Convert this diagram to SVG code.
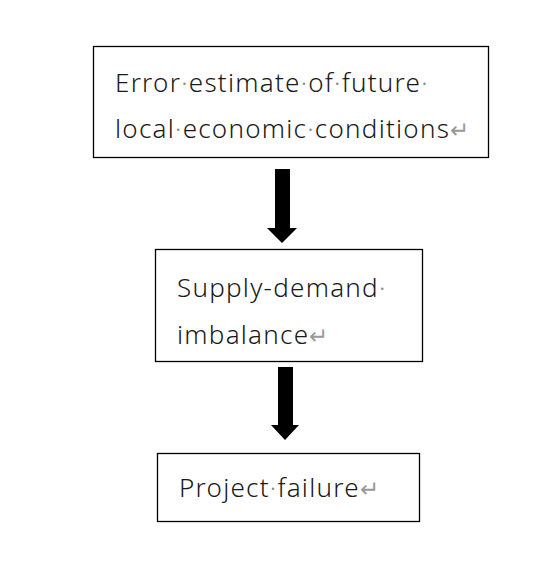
<svg xmlns="http://www.w3.org/2000/svg" width="546" height="581" viewBox="0 0 546 581">
<style>
.box{fill:#fff;stroke:#000;stroke-width:1.3}
.t{font-family:"Noto Sans","Noto Sans CJK SC",sans-serif;font-size:26px;font-weight:300;letter-spacing:1.25px;fill:#1a1a1a}
.m{fill:#8a8a8a}
.r{fill:#9a9a9a;font-size:23px;letter-spacing:0}
.arr{fill:#000}
</style>
<rect width="546" height="581" fill="#fff"/>
<g id="connectors">
<path class="arr" d="M275,169 H290 V228 H297 L282,243 L267,228 H275 Z"/>
<path class="arr" d="M278,367 H293 V425 H299 L285,440 L271,425 H278 Z"/>
</g>
<g id="node1">
<rect class="box" x="93.5" y="46.5" width="395" height="111"/>
<text class="t" x="115" y="92">Error<tspan class="m">·</tspan>estimate<tspan class="m">·</tspan>of<tspan class="m">·</tspan>future<tspan class="m">·</tspan></text>
<text class="t" x="115" y="138">local<tspan class="m">·</tspan>economic<tspan class="m">·</tspan>conditions<tspan class="r">↵</tspan></text>
</g>
<g id="node2">
<rect class="box" x="155.5" y="249.5" width="267" height="112"/>
<text class="t" x="177" y="297">Supply-demand<tspan class="m">·</tspan></text>
<text class="t" x="177" y="344">imbalance<tspan class="r">↵</tspan></text>
</g>
<g id="node3">
<rect class="box" x="157.5" y="453.5" width="262" height="68"/>
<text class="t" x="179" y="497">Project<tspan class="m">·</tspan>failure<tspan class="r">↵</tspan></text>
</g>
</svg>
